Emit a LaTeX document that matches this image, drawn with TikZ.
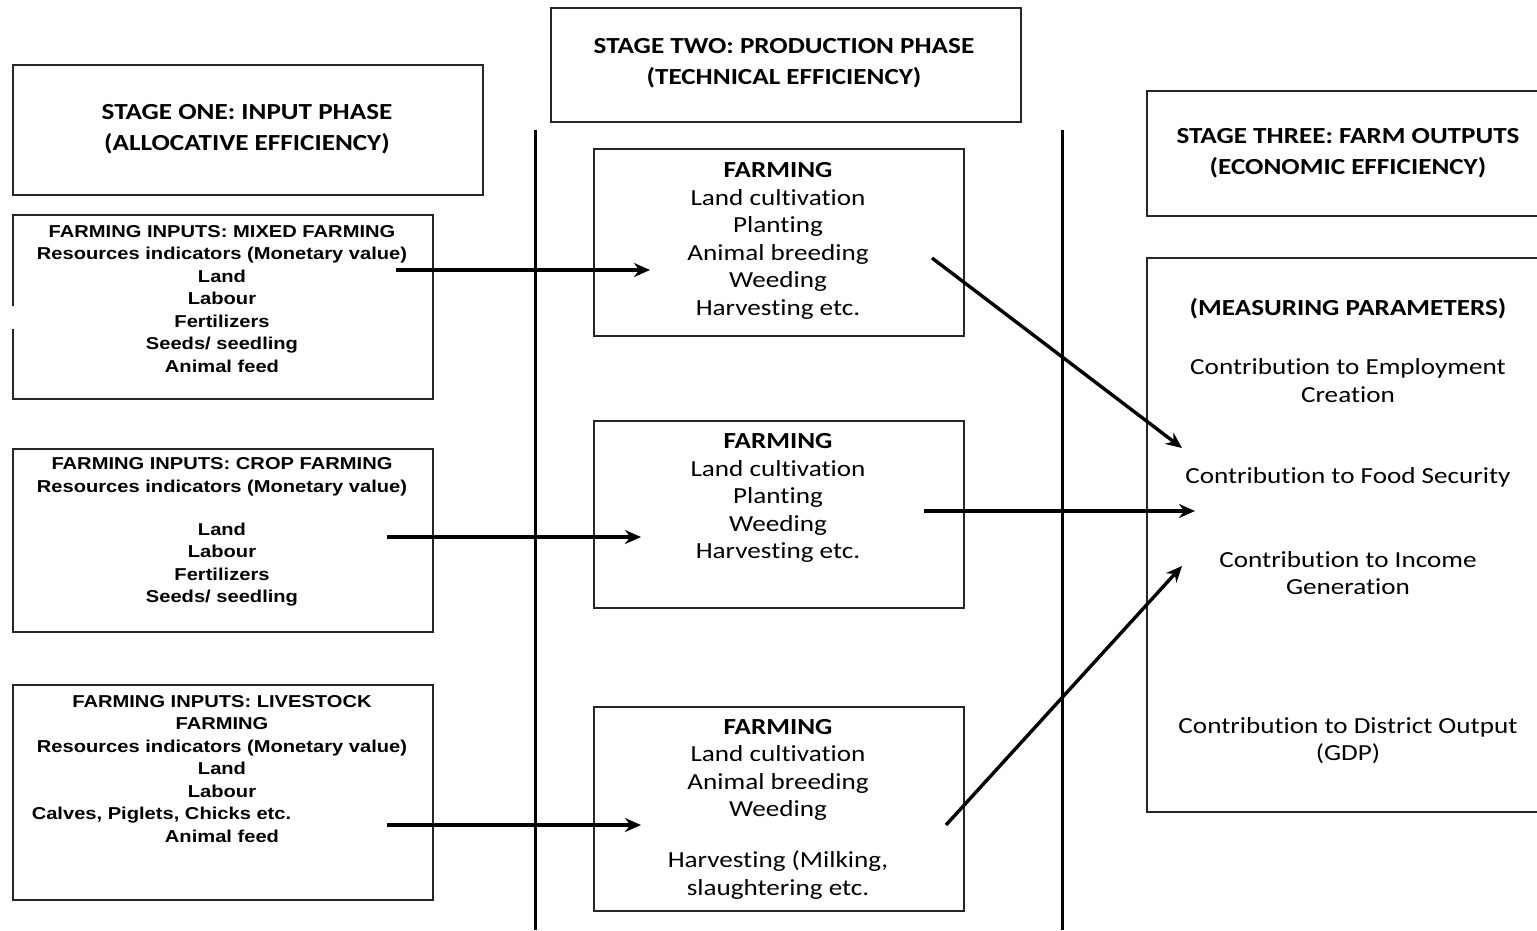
\documentclass[tikz,border=0pt]{standalone}
\usepackage{fontspec}
\setmainfont{Carlito}[FakeStretch=1.18]
\newfontfamily\arialfont{Liberation Sans}[FakeStretch=1.17]
\newcommand{\nolti}{t\kern0pt i}
\usetikzlibrary{arrows.meta}

\begin{document}
\begin{tikzpicture}[x=1pt,y=-1pt,
  box/.style={draw=black!85,line width=1.2pt,anchor=north west,inner sep=0pt,outer sep=0pt},
  title/.style={font=\fontsize{23}{31}\selectfont\bfseries,align=center,inner sep=0pt},
  inputs/.style={font=\arialfont\fontsize{17.2}{22.5}\selectfont\bfseries,align=center,inner sep=0pt},
  steps/.style={font=\fontsize{23}{27.5}\selectfont,align=center,inner sep=0pt},
  flow/.style={-{Stealth[length=16pt,width=14pt]},line width=3.4pt},
  divider/.style={line width=3pt}]
\useasboundingbox (0,0) rectangle (1537,930);

% Stage headers
\node[box,minimum width=470pt,minimum height=130pt] (onebox) at (13,65) {};
\node[title] (one) at (247,129) {STAGE ONE: INPUT PHASE\\(ALLOCATIVE EFFICIENCY)};
\node[box,minimum width=470pt,minimum height=114pt] (twobox) at (551,8) {};
\node[title] (two) at (784,63) {STAGE TWO: PRODUCTION PHASE\\(TECHNICAL EFFICIENCY)};
\node[box,minimum width=398pt,minimum height=125pt] (threebox) at (1147,91) {};
\node[title] (three) at (1348,153) {STAGE THREE: FARM OUTPUTS\\(ECONOMIC EFFICIENCY)};

% Phase dividers
\draw[divider] (535,130) -- (535,930);
\draw[divider] (1062,130) -- (1062,930);

% Stage one: farming inputs
\node[box,minimum width=420pt,minimum height=184pt] (mixedbox) at (13,215) {};
\node[inputs] (mixed) at (222,299) {FARMING INPUTS: MIXED FARMING\\Resources indicators (Monetary value)\\Land\\Labour\\Fertilizers\\Seeds/ seedling\\Animal feed};
\draw[white,line width=3pt] (13,306) -- (13,329);
\node[box,minimum width=420pt,minimum height=183pt] (cropbox) at (13,449) {};
\node[inputs] (crop) at (222,532) {FARMING INPUTS: CROP FARMING\\Resources indicators (Monetary value)\\[20.5pt]Land\\Labour\\Fertilizers\\Seeds/ seedling};
\node[box,minimum width=420pt,minimum height=215pt] (livebox) at (13,685) {};
\node[inputs] (live) at (222,769) {FARMING INPUTS: LIVESTOCK\\FARMING\\Resources indicators (Monetary value)\\Land\\Labour\\\hspace*{-121pt}Calves, Piglets, Chicks etc.\\Animal feed};

% Stage two: farming activities
\node[box,minimum width=370pt,minimum height=187pt] (farmonebox) at (594,149) {};
\node[steps] (farmone) at (778,241) {\textbf{FARMING}\\Land cul\nolti va\nolti on\\Plan\nolti ng\\Animal breeding\\Weeding\\Harves\nolti ng etc.};
\node[box,minimum width=370pt,minimum height=187pt] (farmtwobox) at (594,421) {};
\node[steps] (farmtwo) at (778,498) {\textbf{FARMING}\\Land cul\nolti va\nolti on\\Plan\nolti ng\\Weeding\\Harves\nolti ng etc.};
\node[box,minimum width=370pt,minimum height=204pt] (farmthreebox) at (594,707) {};
\node[steps] (farmthree) at (778,809) {\textbf{FARMING}\\Land cul\nolti va\nolti on\\Animal breeding\\Weeding\\[23.5pt]Harves\nolti ng (Milking,\\slaughtering etc.};

% Stage three: measuring parameters
\node[box,minimum width=398pt,minimum height=554pt] (measurebox) at (1147,258) {};
\node[steps] (measure) at (1348,531) {\textbf{(MEASURING PARAMETERS)}\\[32pt]Contribu\nolti on to Employment\\Crea\nolti on\\[54pt]Contribu\nolti on to Food Security\\[56pt]Contribu\nolti on to Income\\Genera\nolti on\\[111pt]Contribu\nolti on to District Output\\(GDP)};

% Arrow ends
\coordinate (mixedout) at (396,270);
\coordinate (cropout) at (387,537);
\coordinate (liveout) at (387,825);
\coordinate (farmonein) at (650,270);
\coordinate (farmtwoin) at (641,537);
\coordinate (farmthreein) at (641,825);
\coordinate (farmoneout) at (932,258);
\coordinate (farmtwoout) at (924,511);
\coordinate (farmthreeout) at (946,825);
\coordinate (employin) at (1182,448);
\coordinate (foodin) at (1195,511);
\coordinate (incomein) at (1182,566);

% Add flows
\draw[flow] (mixedout) -- (farmonein);
\draw[flow] (cropout) -- (farmtwoin);
\draw[flow] (liveout) -- (farmthreein);
\draw[flow] (farmoneout) -- (employin);
\draw[flow] (farmtwoout) -- (foodin);
\draw[flow] (farmthreeout) -- (incomein);
\end{tikzpicture}
\end{document}
